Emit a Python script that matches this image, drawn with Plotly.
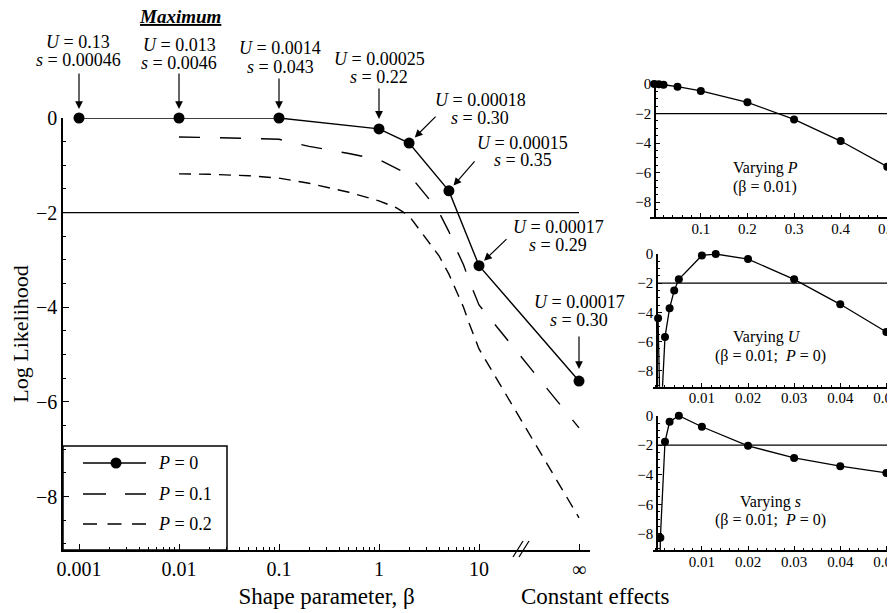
import math
import plotly.graph_objects as go

# The page body has an 8 px margin, so the figure is drawn 8 px in from the
# top-left corner of the 895x613 window; the figure is sized to fill the rest.
OFF = 8
W, H = 895 - OFF, 613 - OFF
FONT = "Liberation Serif"


def px(x):
    return (x - OFF) / W


def py(y):
    return 1 - (y - OFF) / H


# ---------------- data ----------------
INF = 100  # axis position standing for "constant effects" (beta -> infinity)
beta_tickvals = [0.001, 0.01, 0.1, 1, 10, INF]
beta_ticktext = ["0.001", "0.01", "0.1", "1", "10", "∞"]

beta_p0 = [0.001, 0.01, 0.1, 1, 2, 5, 10, INF]
ll_p0 = [0.0, 0.0, 0.0, -0.23, -0.53, -1.54, -3.12, -5.56]
U_p0 = ["0.13", "0.013", "0.0014", "0.00025", "0.00018", "0.00015", "0.00017", "0.00017"]
s_p0 = ["0.00046", "0.0046", "0.043", "0.22", "0.30", "0.35", "0.29", "0.30"]

beta_p01 = [0.01, 0.02, 0.05, 0.1, 0.2, 0.5, 1, 2, 3, 4, 5, 6, 7, 8, 10, INF]
ll_p01 = [-0.40, -0.41, -0.43, -0.45, -0.60, -0.75, -0.88, -1.20, -1.65, -2.00,
          -2.40, -2.80, -3.10, -3.45, -3.95, -6.55]

beta_p02 = [0.01, 0.02, 0.05, 0.1, 0.2, 0.5, 1, 1.5, 2, 3, 4, 5, 6, 7, 8, 10, INF]
ll_p02 = [-1.18, -1.19, -1.22, -1.27, -1.38, -1.57, -1.75, -1.90, -2.07, -2.58,
          -2.92, -3.30, -3.70, -4.00, -4.35, -4.88, -8.45]

threshold = -2

# insets (beta = 0.01)
P_vals = [0, 0.01, 0.02, 0.05, 0.1, 0.2, 0.3, 0.4, 0.5]
ll_P = [0.0, -0.02, -0.05, -0.18, -0.47, -1.24, -2.40, -3.86, -5.60]

U_vals = [0.0005, 0.001, 0.002, 0.003, 0.004, 0.005, 0.01, 0.013, 0.02, 0.03, 0.04, 0.05]
ll_U = [-4.4, -12.0, -5.7, -3.72, -2.5, -1.74, -0.1, 0.0, -0.35, -1.74, -3.45, -5.35]

s_vals = [0.0005, 0.001, 0.002, 0.003, 0.005, 0.01, 0.02, 0.03, 0.04, 0.05]
ll_s = [-20.0, -8.27, -1.77, -0.41, 0.0, -0.75, -2.04, -2.86, -3.42, -3.88]

inset_P_ticks = [0.1, 0.2, 0.3, 0.4, 0.5]
inset_P_text = ["0.1", "0.2", "0.3", "0.4", "0.5"]
inset_Us_ticks = [0.01, 0.02, 0.03, 0.04, 0.05]
inset_Us_text = ["0.01", "0.02", "0.03", "0.04", "0.05"]
ll_ticks = [0, -2, -4, -6, -8]

# ---------------- figure ----------------
fig = go.Figure()

main_xrange = [-3.16, 2.11]
main_yrange = [-9.13, 0]

fig.add_trace(go.Scatter(x=[10 ** main_xrange[0], INF], y=[threshold, threshold],
                         mode="lines", line=dict(color="black", width=1.3),
                         showlegend=False, hoverinfo="skip"))
fig.add_trace(go.Scatter(x=beta_p01, y=ll_p01, mode="lines",
                         line=dict(color="black", width=1.4, dash="21px,20px"),
                         showlegend=False))
fig.add_trace(go.Scatter(x=beta_p02, y=ll_p02, mode="lines",
                         line=dict(color="black", width=1.4, dash="12px,8px"),
                         showlegend=False))
fig.add_trace(go.Scatter(x=beta_p0, y=ll_p0, mode="lines+markers",
                         line=dict(color="black", width=1.4),
                         marker=dict(color="black", size=11),
                         cliponaxis=False, showlegend=False))

# inset geometry: x-axis line starts a few px left of the y-axis, as in the original
r1 = [-0.009, 0.508]
r1_axis = 0.0017          # where the y-axis of inset 1 sits (x value)
r2 = [-0.0006, 0.051]
r2_axis = 0.0003          # where the y-axes of insets 2 and 3 sit (x value)


def inset(xs, ys, xa, ya, x_axis, x_end):
    fig.add_trace(go.Scatter(x=[x_axis, x_end], y=[threshold, threshold], mode="lines",
                             line=dict(color="black", width=1.2), xaxis=xa, yaxis=ya,
                             showlegend=False, hoverinfo="skip"))
    fig.add_trace(go.Scatter(x=xs, y=ys, mode="lines", line=dict(color="black", width=1.3),
                             xaxis=xa, yaxis=ya, showlegend=False))
    mx = [x for x, y in zip(xs, ys) if y >= -9.2]
    my = [y for x, y in zip(xs, ys) if y >= -9.2]
    fig.add_trace(go.Scatter(x=mx, y=my, mode="markers", marker=dict(color="black", size=8),
                             cliponaxis=False, xaxis=xa, yaxis=ya, showlegend=False))


inset(P_vals, ll_P, "x2", "y2", r1_axis, r1[1])
inset(U_vals, ll_U, "x3", "y3", r2_axis, r2[1])
inset(s_vals, ll_s, "x4", "y4", r2_axis, r2[1])

axis_common = dict(showline=True, linecolor="black", linewidth=1.5, showgrid=False,
                   zeroline=False, ticks="inside", tickcolor="black", tickwidth=1.2,
                   automargin=False, ticklabeloverflow="allow")
inset_x = dict(**axis_common, ticklen=4, tickfont=dict(size=15), tickmode="array",
               ticklabelstandoff=-3)
inset_y = dict(**axis_common, ticklen=4, tickfont=dict(size=15), tickmode="array",
               tickvals=ll_ticks, anchor="free",
               minor=dict(dtick=0.5, ticks="inside", ticklen=2, tickcolor="black"))

fig.update_layout(
    template="none",
    width=W, height=H, margin=dict(l=0, r=0, t=0, b=0, autoexpand=False),
    paper_bgcolor="white", plot_bgcolor="white",
    font=dict(family=FONT, color="black"),
    xaxis=dict(**axis_common, type="log", range=main_xrange,
               domain=[px(63), px(590)], anchor="y",
               tickmode="array", tickvals=beta_tickvals, ticktext=beta_ticktext,
               ticklen=6, tickfont=dict(size=20),
               minor=dict(tickmode="array",
                          tickvals=[m * 10 ** e for e in range(-3, 1) for m in range(2, 10)],
                          ticks="inside", ticklen=3, tickcolor="black", tickwidth=1),
               title=dict(text="Shape parameter, β", font=dict(size=23), standoff=9)),
    yaxis=dict(**axis_common, range=main_yrange, domain=[py(550), py(118)], anchor="x",
               tickmode="array", tickvals=ll_ticks, ticklen=6, tickfont=dict(size=20),
               minor=dict(dtick=0.5, ticks="inside", ticklen=3, tickcolor="black",
                          tickwidth=1),
               title=dict(text="Log Likelihood", font=dict(size=22), standoff=9)),
    xaxis2=dict(**inset_x, range=r1, domain=[px(650), px(891)], anchor="y2",
                tickvals=inset_P_ticks, ticktext=inset_P_text,
                minor=dict(dtick=0.02, ticks="inside", ticklen=2, tickcolor="black")),
    yaxis2=dict(**inset_y, range=[-9.0, 0], domain=[py(217), py(84)], position=px(655)),
    xaxis3=dict(**inset_x, range=r2, domain=[px(653), px(891)], anchor="y3",
                tickvals=inset_Us_ticks, ticktext=inset_Us_text,
                minor=dict(dtick=0.002, ticks="inside", ticklen=2, tickcolor="black")),
    yaxis3=dict(**inset_y, range=[-9.1, 0], domain=[py(386.7), py(254)], position=px(657)),
    xaxis4=dict(**inset_x, range=r2, domain=[px(653), px(891)], anchor="y4",
                tickvals=inset_Us_ticks, ticktext=inset_Us_text,
                minor=dict(dtick=0.002, ticks="inside", ticklen=2, tickcolor="black")),
    yaxis4=dict(**inset_y, range=[-9.1, 0], domain=[py(550), py(415.7)], position=px(657)),
)

ann = []
# labels for the P = 0 maxima: (text dx, line1 dy, line2 dy, arrow ax, ay, standoff)
label_layout = [
    (-1, -76, -58, 0, -46, 9),
    (0, -73, -55, 0, -46, 9),
    (1, -70, -51, 0, -41, 9),
    (0, -70, -52, 0, -42, 10),
    (71, -43, -25, 28, -28, 8),
    (74, -48, -31, 27, -31, 7),
    (79, -39, -21, 29, -28, 7),
    (0, -79, -61, 0, -46, 12),
]
for b, v, u, s, (dx, d1, d2, ax, ay, so) in zip(beta_p0, ll_p0, U_p0, s_p0, label_layout):
    lx = math.log10(b)
    ann.append(dict(x=lx, y=v, xref="x", yref="y", text=f"<i>U</i> = {u}", showarrow=False,
                    xanchor="center", yanchor="middle",
                    xshift=dx, yshift=-d1, font=dict(size=18)))
    ann.append(dict(x=lx, y=v, xref="x", yref="y", text=f"<i>s</i> = {s}", showarrow=False,
                    xanchor="center", yanchor="middle",
                    xshift=dx, yshift=-d2, font=dict(size=18)))
    ann.append(dict(x=lx, y=v, xref="x", yref="y", text="", showarrow=True, ax=ax, ay=ay,
                    arrowhead=2, arrowsize=1.3, arrowwidth=1.2, arrowcolor="black",
                    standoff=so))


def paper_text(x, y, text, size, xanchor="center"):
    ann.append(dict(x=px(x), y=py(y), xref="paper", yref="paper", text=text,
                    showarrow=False, xanchor=xanchor, yanchor="middle",
                    font=dict(size=size)))


paper_text(180, 17, "<b><i><u>Maximum</u></i></b>", 19)
paper_text(595, 596, "Constant effects", 23)

# legend text
for yy, t in [(463, "<i>P</i> = 0"), (494, "<i>P</i> = 0.1"), (524, "<i>P</i> = 0.2")]:
    paper_text(156, yy, t, 18, xanchor="left")

# inset captions
NB = "\u00a0"
wide_cap = f"(β = 0.01;{NB} <i>P</i>{NB}={NB}0)"
for cx, cy, t in [(765, 168, "Varying <i>P</i>"), (765, 187, "(β = 0.01)"),
                  (767, 337, "Varying <i>U</i>"), (770, 356, wide_cap),
                  (770, 502, "Varying <i>s</i>"), (770, 520, wide_cap)]:
    paper_text(cx, cy, t, 16)

fig.update_layout(annotations=ann)

shapes = []
# axis break marks
for off in (0, 6):
    shapes.append(dict(type="line", xref="paper", yref="paper",
                       x0=px(513 + off), y0=py(557), x1=px(523 + off), y1=py(541),
                       line=dict(color="black", width=1.3)))
# legend box and samples
shapes.append(dict(type="rect", xref="paper", yref="paper", x0=px(63), x1=px(227),
                   y0=py(550), y1=py(446), line=dict(color="black", width=1.5)))
shapes.append(dict(type="line", xref="paper", yref="paper", x0=px(83), x1=px(146),
                   y0=py(463), y1=py(463), line=dict(color="black", width=1.4)))
shapes.append(dict(type="circle", xref="paper", yref="paper", x0=px(110.5), x1=px(121.5),
                   y0=py(468.5), y1=py(457.5), fillcolor="black",
                   line=dict(color="black", width=0)))
shapes.append(dict(type="line", xref="paper", yref="paper", x0=px(83), x1=px(146),
                   y0=py(494), y1=py(494),
                   line=dict(color="black", width=1.4, dash="23px,19px")))
shapes.append(dict(type="line", xref="paper", yref="paper", x0=px(83), x1=px(146),
                   y0=py(524), y1=py(524),
                   line=dict(color="black", width=1.4, dash="14px,10.5px")))
fig.update_layout(shapes=shapes)

fig.write_html("out.html")
